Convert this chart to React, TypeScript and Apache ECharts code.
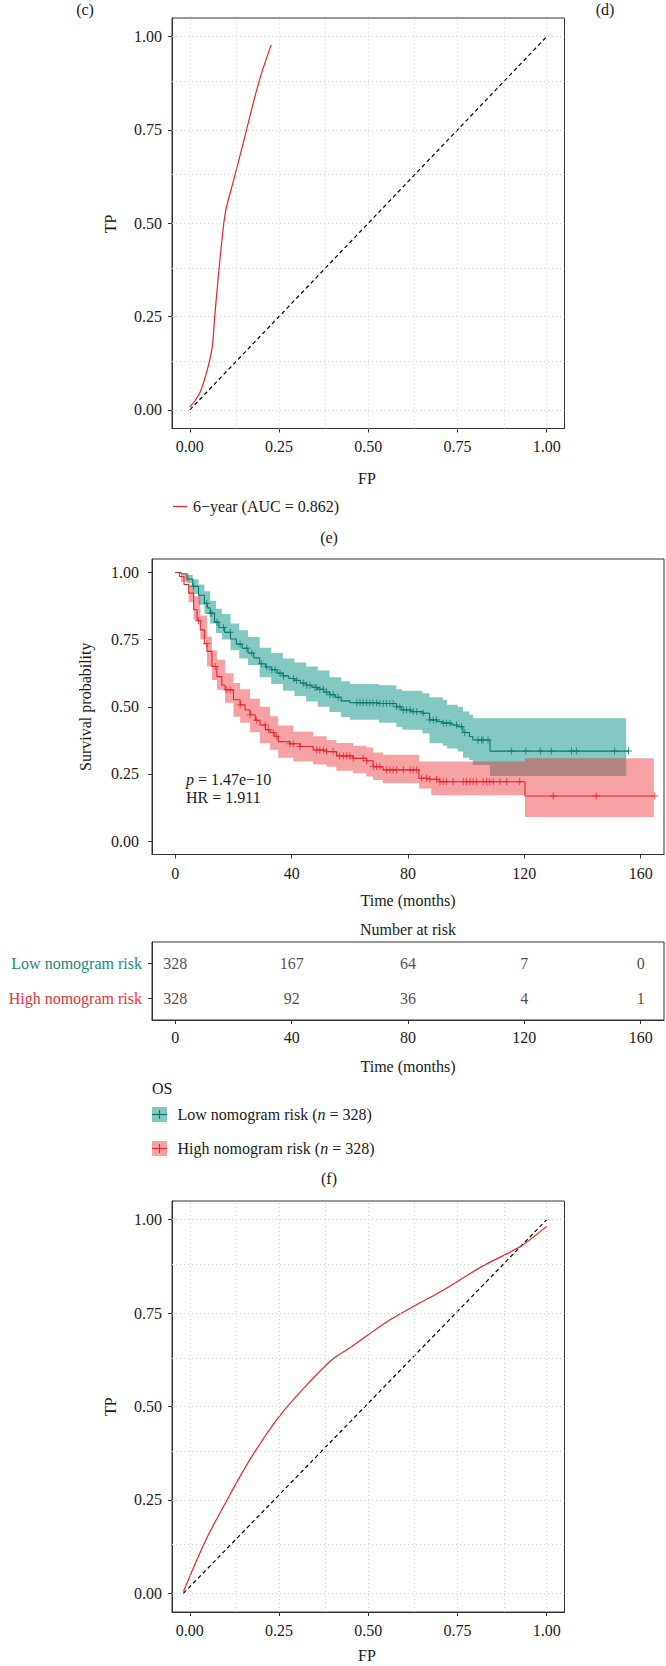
import React, { useEffect, useRef } from "react";
import * as echarts from "echarts";

const FONT = '"Liberation Serif", "Times New Roman", serif';
const TEXT = "#1a1a1a";
const AXIS = "#333333";
const TEAL = "#0E7A70";
const TEAL_LABEL = "#1F8779";
const RED = "#E3262B";
const RED_LABEL = "#E8343A";
const TEAL_FILL = "rgba(8,145,132,0.5)";
const RED_FILL = "rgba(236,48,54,0.45)";

// ---------- ROC panels ----------
const rocTicks = [0, 0.25, 0.5, 0.75, 1];
const rocGridLines = [0, 0.125, 0.25, 0.375, 0.5, 0.625, 0.75, 0.875, 1];

// (e) 6-year ROC (FP, TP)
const roc6Year: number[][] = [
  [0, 0.008], [0.015, 0.025], [0.03, 0.05], [0.049, 0.107], [0.063, 0.17],
  [0.069, 0.241], [0.078, 0.339], [0.088, 0.437], [0.1, 0.531], [0.123, 0.616],
  [0.147, 0.705], [0.175, 0.812], [0.198, 0.893], [0.228, 0.978],
];
const diagTop: number[][] = [[0, 0], [1, 1]];

// bottom ROC (FP, TP)
const rocBottom: number[][] = [
  [-0.018, 0.005], [0.044, 0.141], [0.109, 0.258], [0.173, 0.365], [0.25, 0.473],
  [0.324, 0.554], [0.399, 0.626], [0.453, 0.66], [0.5, 0.692], [0.561, 0.732],
  [0.625, 0.767], [0.711, 0.812], [0.819, 0.875], [0.926, 0.928], [1.0, 0.982],
];
const diagBottom: number[][] = [[-0.018, 0], [1, 1]];

// ---------- Kaplan-Meier panel (f) ----------
const kmTicks = [0, 40, 80, 120, 160];
const survTicks = [0, 0.25, 0.5, 0.75, 1];

// [time, survival] at each drop
const lowCurve: number[][] = [
  [0, 1.0], [2, 0.995], [4, 0.975], [6, 0.948], [8, 0.915], [10, 0.885], [11, 0.868],
  [12, 0.848], [13.5, 0.815], [15, 0.795], [17, 0.777], [19, 0.752], [21, 0.733],
  [23, 0.718], [25, 0.7], [27, 0.682], [29, 0.66], [31, 0.648], [33, 0.638], [35, 0.625],
  [37, 0.615], [39, 0.605], [41, 0.598], [43, 0.588], [45, 0.58], [47, 0.572], [49, 0.565],
  [51, 0.555], [53, 0.545], [55, 0.535], [57, 0.522], [60, 0.515], [70, 0.512], [76, 0.5],
  [77.7, 0.488], [81, 0.482], [85, 0.476], [87.4, 0.451], [90, 0.445], [92, 0.439],
  [95, 0.432], [97.1, 0.426], [98.9, 0.404], [101.1, 0.389], [102.3, 0.376], [108.2, 0.335],
];
const lowEnd = 156;

const highCurve: number[][] = [
  [0, 1.0], [1.5, 0.985], [3, 0.955], [4.6, 0.923], [6.3, 0.861], [7.5, 0.82], [8.6, 0.786],
  [10, 0.735], [10.9, 0.706], [12.6, 0.65], [14.3, 0.612], [16, 0.58], [17.1, 0.563],
  [20, 0.526], [22.3, 0.507], [24, 0.488], [25.7, 0.47], [27.5, 0.45], [29.1, 0.432],
  [31, 0.415], [32.6, 0.404], [34, 0.39], [35.4, 0.37], [39.4, 0.362], [42.9, 0.352],
  [47.4, 0.339], [52, 0.333], [55.4, 0.317], [61.1, 0.308], [65.7, 0.299], [68, 0.277],
  [71.4, 0.265], [83.8, 0.234], [87.4, 0.23], [90.9, 0.221], [120.2, 0.168],
];
const highEnd = 164.5;

// [time, lower, upper]
const lowBand: number[][] = [
  [0, 1.0, 1.0], [4, 0.96, 0.99], [6, 0.92, 0.975], [8, 0.88, 0.955], [10, 0.845, 0.93],
  [12, 0.81, 0.895], [14, 0.775, 0.865], [16, 0.75, 0.845], [19, 0.71, 0.81],
  [22, 0.68, 0.785], [25, 0.655, 0.76], [29, 0.61, 0.72], [33, 0.585, 0.7],
  [37, 0.56, 0.68], [41, 0.54, 0.665], [45, 0.52, 0.65], [49, 0.5, 0.635],
  [53, 0.48, 0.61], [57, 0.462, 0.595], [60, 0.452, 0.585], [70, 0.44, 0.58],
  [76, 0.425, 0.565], [78, 0.414, 0.56], [85, 0.4, 0.55], [87.4, 0.364, 0.535],
  [92, 0.355, 0.525], [93.4, 0.345, 0.507], [97.1, 0.333, 0.5], [98.9, 0.31, 0.482],
  [101.1, 0.302, 0.47], [102.3, 0.283, 0.457], [108.2, 0.242, 0.457],
];
const lowBandEnd = 155;

const highBand: number[][] = [
  [0, 1.0, 1.0], [2, 0.965, 0.995], [4.6, 0.89, 0.955], [6.3, 0.824, 0.911],
  [8.6, 0.75, 0.84], [10.9, 0.65, 0.761], [12.6, 0.6, 0.71], [14.3, 0.563, 0.675],
  [17.1, 0.515, 0.625], [20, 0.463, 0.588], [22.3, 0.44, 0.565], [25.7, 0.405, 0.53],
  [29.1, 0.364, 0.5], [32.6, 0.34, 0.465], [35.4, 0.31, 0.43], [40.6, 0.296, 0.407],
  [47.4, 0.285, 0.39], [52, 0.277, 0.376], [55.4, 0.262, 0.365], [61.1, 0.252, 0.355],
  [65.7, 0.24, 0.348], [68, 0.227, 0.33], [71.4, 0.215, 0.321], [83.8, 0.196, 0.296],
  [88, 0.171, 0.296], [120.2, 0.09, 0.308],
];
const highBandEnd = 164.5;

// censoring times
const lowCensor = [
  6.3, 10.8, 12, 12.6, 14.3, 16.6, 18.9, 22.3, 24.6, 26.3, 29.7, 31.4, 33.2, 34.3, 36, 37.2,
  40.6, 41.7, 44, 45.2, 46.3, 48, 48.6, 49.7, 50.9, 52, 53.2, 54.3, 56, 62.4, 63.5, 64.6,
  65.8, 66.9, 68, 69.2, 70.3, 71.5, 72.6, 73.8, 74.9, 76.1, 77.2, 78.4, 79.5, 80.7, 81.8,
  83, 85.2, 87.5, 88.7, 89.8, 92.1, 93.2, 94.4, 96.7, 98.4, 99.5, 104.1, 105.3, 105.8,
  107.5, 115.6, 120.5, 125.5, 129.3, 136.2, 137.9, 151, 155.8,
];
const highCensor = [
  8, 10.8, 13.7, 17.7, 18.9, 22.3, 25.7, 28, 30.9, 32, 33.7, 34.9, 39.4, 40.6, 42.9, 48.6,
  49.7, 50.9, 52, 54.3, 56.5, 57.8, 58.9, 60, 61.2, 64.6, 65.8, 68.1, 69.2, 70.3, 72.6,
  73.8, 74.9, 76.1, 78.4, 80.7, 81.8, 83, 84.7, 86.4, 87.5, 89.8, 91, 92.1, 93.2, 95.5,
  99, 100.1, 101.3, 102.4, 103.5, 105.8, 107, 108.1, 109.3, 111.6, 113.9, 118.4, 129.9,
  144.7, 164.8,
];

// ---------- Number at risk ----------
const riskTimes = [0, 40, 80, 120, 160];
const riskLow = [328, 167, 64, 7, 0];
const riskHigh = [328, 92, 36, 4, 1];
const riskGroups = ["Low nomogram risk", "High nomogram risk"];

// ---------- helpers ----------
function stepAt(curve: number[][], t: number): number {
  let v = curve[0][1];
  for (const [ti, si] of curve) if (ti <= t) v = si;
  return v;
}
function bandPolygon(band: number[][], tEnd: number): number[][] {
  const up: number[][] = [];
  const lo: number[][] = [];
  band.forEach((b, i) => {
    const t1 = i + 1 < band.length ? band[i + 1][0] : tEnd;
    up.push([b[0], b[2]], [t1, b[2]]);
    lo.push([b[0], b[1]], [t1, b[1]]);
  });
  return up.concat(lo.reverse());
}

const fmt2 = (v: number) => v.toFixed(2);
const fmt0 = (v: number) => String(Math.round(v));

function valueAxis(gridIndex: number, min: number, max: number, ticks: number[], fmt: any, margin: number, extra: any = {}) {
  return {
    type: "value",
    gridIndex,
    min,
    max,
    axisLine: { show: true, onZero: false, lineStyle: { color: AXIS, width: 1 } },
    axisTick: { show: true, length: 4, customValues: ticks, lineStyle: { color: AXIS, width: 1 } },
    axisLabel: {
      show: true,
      customValues: ticks,
      formatter: fmt,
      margin,
      fontSize: 16,
      fontFamily: FONT,
      color: TEXT,
    },
    splitLine: { show: false },
    ...extra,
  };
}

function gridBox(left: number, top: number, width: number, height: number) {
  return {
    left, top, width, height,
    show: true,
    borderColor: AXIS,
    borderWidth: 1,
    backgroundColor: "transparent",
    containLabel: false,
    outerBoundsMode: "none",
  };
}

function rocSeries(axisIndex: number, curve: number[][], diag: number[][]) {
  return [
    {
      type: "line",
      xAxisIndex: axisIndex,
      yAxisIndex: axisIndex,
      data: diag,
      symbol: "none",
      silent: true,
      z: 2,
      lineStyle: { color: "#000", width: 1.2, type: [4, 3] },
      markLine: {
        silent: true,
        symbol: ["none", "none"],
        label: { show: false },
        lineStyle: { type: [1, 3], color: "#cdcdcd", width: 1 },
        data: rocGridLines.map((v) => ({ xAxis: v })).concat(rocGridLines.map((v) => ({ yAxis: v })) as any),
      },
    },
    {
      type: "line",
      xAxisIndex: axisIndex,
      yAxisIndex: axisIndex,
      data: curve,
      smooth: 0.3,
      symbol: "none",
      silent: true,
      z: 3,
      lineStyle: { color: RED, width: 1.2 },
    },
  ];
}

function bandSeries(band: number[][], tEnd: number, fill: string, z: number) {
  const poly = bandPolygon(band, tEnd);
  return {
    type: "custom",
    xAxisIndex: 1,
    yAxisIndex: 1,
    data: [[0, 0]],
    silent: true,
    z,
    renderItem: (params: any, api: any) => {
      if (params.dataIndex !== 0) return null;
      return {
        type: "polygon",
        shape: { points: poly.map((p) => api.coord(p)) },
        style: { fill },
      };
    },
  };
}

function kmLine(curve: number[][], tEnd: number, color: string) {
  const data = curve.concat([[tEnd, curve[curve.length - 1][1]]]);
  return {
    type: "line",
    xAxisIndex: 1,
    yAxisIndex: 1,
    data,
    step: "end",
    symbol: "none",
    silent: true,
    z: 4,
    lineStyle: { color, width: 1.1 },
  };
}

function censorSeries(curve: number[][], times: number[], color: string) {
  return {
    type: "scatter",
    xAxisIndex: 1,
    yAxisIndex: 1,
    data: times.map((t) => [t, stepAt(curve, t)]),
    symbol: "path://M0,5L10,5M5,0L5,10",
    symbolSize: 7,
    silent: true,
    z: 5,
    itemStyle: { color: "transparent", borderColor: color, borderWidth: 1 },
  };
}

function riskSeries(row: number, counts: number[]) {
  return {
    type: "scatter",
    xAxisIndex: 2,
    yAxisIndex: 2,
    data: riskTimes.map((t, i) => [t, row, counts[i]]),
    symbolSize: 1,
    silent: true,
    itemStyle: { color: "transparent" },
    label: {
      show: true,
      position: "inside",
      formatter: (p: any) => String(p.value[2]),
      fontSize: 16,
      fontFamily: FONT,
      color: TEXT,
    },
  };
}

function txt(text: string, x: number, y: number, opts: any = {}) {
  const { align = "center", rotation = 0, fill = TEXT, rich, fontStyle } = opts;
  return {
    type: "text",
    x,
    y,
    rotation,
    silent: true,
    style: {
      text,
      fill,
      fontSize: 16,
      fontFamily: FONT,
      fontStyle,
      align,
      verticalAlign: "middle",
      textAlign: align,
      textVerticalAlign: "middle",
      rich,
    },
  };
}

const richBase = {
  a: { fontSize: 16, fontFamily: FONT, fill: TEXT, color: TEXT },
  i: { fontSize: 16, fontFamily: FONT, fill: TEXT, color: TEXT, fontStyle: "italic" },
};

export default function App() {
  const ref = useRef<HTMLDivElement>(null);

  useEffect(() => {
    if (!ref.current) return;
    const chart = echarts.init(ref.current, undefined, { renderer: "svg" });

    const option: any = {
      animation: false,
      textStyle: { fontFamily: FONT },
      grid: [
        gridBox(172, 18, 392.5, 410.5),
        gridBox(152, 559, 512, 295.5),
        gridBox(152, 942, 512, 78),
        gridBox(172, 1201, 392.5, 411),
      ],
      xAxis: [
        valueAxis(0, -0.05, 1.05, rocTicks, fmt2, 10),
        valueAxis(1, -8, 168, kmTicks, fmt0, 11),
        valueAxis(2, -8, 168, kmTicks, fmt0, 9),
        valueAxis(3, -0.05, 1.05, rocTicks, fmt2, 10),
      ],
      yAxis: [
        valueAxis(0, -0.05, 1.05, rocTicks, fmt2, 10),
        valueAxis(1, -0.05, 1.05, survTicks, fmt2, 13),
        valueAxis(2, 0.4, 2.6, [1, 2], (v: number) => (v === 1 ? "{low|" + riskGroups[0] + "}" : "{high|" + riskGroups[1] + "}"), 10, {
          inverse: true,
          axisLabel: {
            show: true,
            customValues: [1, 2],
            formatter: (v: number) => (Math.round(v) === 1 ? "{low|" + riskGroups[0] + "}" : "{high|" + riskGroups[1] + "}"),
            margin: 10,
            rich: {
              low: { fontSize: 16, fontFamily: FONT, color: TEAL_LABEL },
              high: { fontSize: 16, fontFamily: FONT, color: RED_LABEL },
            },
          },
        }),
        valueAxis(3, -0.05, 1.05, rocTicks, fmt2, 10),
      ],
      series: [
        ...rocSeries(0, roc6Year, diagTop),
        bandSeries(lowBand, lowBandEnd, TEAL_FILL, 1),
        bandSeries(highBand, highBandEnd, RED_FILL, 2),
        kmLine(lowCurve, lowEnd, TEAL),
        kmLine(highCurve, highEnd, RED),
        censorSeries(lowCurve, lowCensor, TEAL),
        censorSeries(highCurve, highCensor, RED),
        riskSeries(1, riskLow),
        riskSeries(2, riskHigh),
        ...rocSeries(3, rocBottom, diagBottom),
      ],
      graphic: {
        elements: [
          txt("(c)", 85, 9),
          txt("(d)", 605, 9),
          txt("TP", 110, 224, { rotation: Math.PI / 2 }),
          txt("FP", 367, 478),
          {
            type: "line",
            silent: true,
            shape: { x1: 173, y1: 506.5, x2: 187, y2: 506.5 },
            style: { stroke: RED, lineWidth: 1.3 },
          },
          txt("6\u2212year (AUC = 0.862)", 193, 506.5, { align: "left" }),
          txt("(e)", 329, 537),
          txt("Survival probability", 85, 706.7, { rotation: Math.PI / 2 }),
          txt("{i|p}{a| = 1.47e\u221210}", 186, 779, { align: "left", rich: richBase }),
          txt("HR = 1.911", 186, 797, { align: "left" }),
          txt("Time (months)", 408, 900),
          txt("Number at risk", 408, 929),
          txt("Time (months)", 408, 1066),
          txt("OS", 152, 1088, { align: "left" }),
          { type: "rect", silent: true, shape: { x: 152, y: 1107, width: 15, height: 15 }, style: { fill: TEAL_FILL } },
          { type: "line", silent: true, shape: { x1: 152, y1: 1114.5, x2: 167, y2: 1114.5 }, style: { stroke: TEAL, lineWidth: 1.2 } },
          { type: "line", silent: true, shape: { x1: 159.5, y1: 1110, x2: 159.5, y2: 1119 }, style: { stroke: TEAL, lineWidth: 1.2 } },
          txt("{a|Low nomogram risk (}{i|n}{a| = 328)}", 177.5, 1114.5, { align: "left", rich: richBase }),
          { type: "rect", silent: true, shape: { x: 152, y: 1141, width: 15, height: 15 }, style: { fill: RED_FILL } },
          { type: "line", silent: true, shape: { x1: 152, y1: 1148.5, x2: 167, y2: 1148.5 }, style: { stroke: RED, lineWidth: 1.2 } },
          { type: "line", silent: true, shape: { x1: 159.5, y1: 1144, x2: 159.5, y2: 1153 }, style: { stroke: RED, lineWidth: 1.2 } },
          txt("{a|High nomogram risk (}{i|n}{a| = 328)}", 177.5, 1148.5, { align: "left", rich: richBase }),
          txt("(f)", 329, 1178.5),
          txt("TP", 110, 1406.7, { rotation: Math.PI / 2 }),
          txt("FP", 367, 1655),
        ],
      },
    };

    chart.setOption(option);
    return () => chart.dispose();
  }, []);

  return (
    <div
      ref={ref}
      style={{ position: "absolute", left: 0, top: 0, width: 666, height: 1666, background: "#fff" }}
    />
  );
}
